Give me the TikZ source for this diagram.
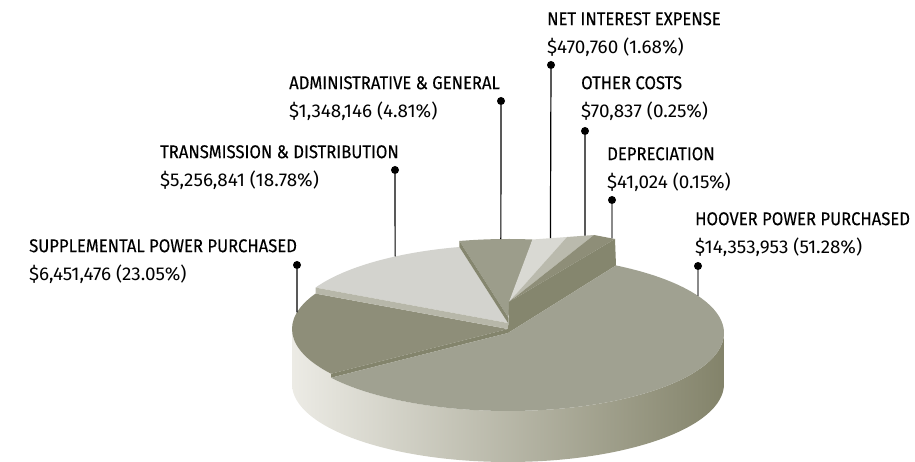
\documentclass[tikz,border=0pt]{standalone}
\usepackage{fontspec}
\setmainfont{Fira Sans}
\newfontfamily\headfont{Fira Sans}[FakeStretch=0.90,FakeBold=0.3]
\newfontfamily\numfont{Fira Sans}[FakeStretch=1.02]
\usepackage{tikz}
\usetikzlibrary{positioning,calc}

\definecolor{hoovertop}{HTML}{A0A191}
\definecolor{supptop}{HTML}{8E8E79}
\definecolor{suppcut}{HTML}{83846C}
\definecolor{tdtop}{HTML}{D3D3CE}
\definecolor{tdcut}{HTML}{B7B7A9}
\definecolor{agtop}{HTML}{9C9D8B}
\definecolor{agcut}{HTML}{85866F}
\definecolor{nitop}{HTML}{D9D9D3}
\definecolor{octop}{HTML}{BABAAD}
\definecolor{deptop}{HTML}{8E8E78}
\definecolor{depcut}{HTML}{85866E}
\definecolor{sideleft}{HTML}{ECEBE5}
\definecolor{sidemid}{HTML}{B3B09C}
\definecolor{sideright}{HTML}{83836A}

\begin{document}
\begin{tikzpicture}[x=1pt, y=1pt,
        lbl/.style={anchor=north west, inner sep=0pt, align=left, font=\fontsize{18.5}{28}\selectfont},
        dot/.style={circle, fill=black, inner sep=0pt, minimum size=8pt},
        leader/.style={line width=1.2pt}]
        \useasboundingbox (0,0) rectangle (915,462);

        % Centres of the slices
        \coordinate (c0) at (508,129);
        \coordinate (cs) at (508,133);
        \coordinate (ct) at (508,139);
        \coordinate (ca) at (508,145);
        \coordinate (sm) at (509,160);
        \coordinate (r0) at ($(ca)+(83.5:216 and 78)$);
        \coordinate (r1) at (567,225);
        \coordinate (r2) at (594,227);
        \coordinate (r3) at (615,223);

        % Side of the pie
        \shade[left color=sideleft, middle color=sidemid, right color=sideright]
            ($(cs)+(180:216 and 78)$) arc[start angle=180, end angle=215, x radius=216, y radius=78]
            -- ($(c0)+(215:216 and 78)$) arc[start angle=215, end angle=360, x radius=216, y radius=78]
            -- ++(0,-51) arc[start angle=0, end angle=-180, x radius=216, y radius=78] -- cycle;

        % Slices
        \fill[agtop] (ca) -- ($(ca)+(83.5:216 and 78)$) arc[start angle=83.5, end angle=103, x radius=216, y radius=78] -- cycle;
        \fill[tdtop] (ct) -- ($(ct)+(103:216 and 78)$) arc[start angle=103, end angle=153, x radius=216, y radius=78] -- cycle;
        \fill[agcut] (ca) -- ($(ca)+(103:216 and 78)$) -- ($(ct)+(103:216 and 78)$) -- (ct) -- cycle;
        \fill[supptop] (cs) -- ($(cs)+(153:216 and 78)$) arc[start angle=153, end angle=215, x radius=216, y radius=78] -- cycle;
        \fill[tdcut] (ct) -- ($(ct)+(153:216 and 78)$) -- ($(cs)+(153:216 and 78)$) -- (cs) -- cycle;
        \fill[nitop] (sm) -- (r0) -- (r1) -- cycle;
        \fill[octop] (sm) -- (r1) -- (r2) -- cycle;
        \fill[deptop] (sm) -- (r2) -- (r3) -- cycle;
        \fill[depcut] (c0) -- (sm) -- (r3) -- ($(c0)+(60:216 and 78)$) -- cycle;
        \fill[suppcut] (cs) -- ($(cs)+(215:216 and 78)$) -- ($(c0)+(215:216 and 78)$) -- (c0) -- cycle;
        \fill[hoovertop] (c0) -- ($(c0)+(60:216 and 78)$) arc[start angle=60, end angle=-145, x radius=216, y radius=78] -- cycle;

        % Labels
        \node[lbl] (nilbl) at (547,450) {\headfont NET INTEREST EXPENSE\\\numfont \$470,760 (1.68\%)};
        \node[lbl] (aglbl) at (289,386) {\headfont ADMINISTRATIVE \& GENERAL\\\numfont \$1,348,146 (4.81\%)};
        \node[lbl] (oclbl) at (581,386) {\headfont OTHER COSTS\\\numfont \$70,837 (0.25\%)};
        \node[lbl] (tdlbl) at (160,317) {\headfont TRANSMISSION \& DISTRIBUTION\\\numfont \$5,256,841 (18.78\%)};
        \node[lbl] (deplbl) at (607,315) {\headfont DEPRECIATION\\\numfont \$41,024 (0.15\%)};
        \node[lbl] (hooverlbl) at (695,250) {\headfont HOOVER POWER PURCHASED\\\numfont \$14,353,953 (51.28\%)};
        \node[lbl] (supplbl) at (29,223) {\headfont SUPPLEMENTAL POWER PURCHASED\\\numfont \$6,451,476 (23.05\%)};

        % Dots and leader ends
        \node[dot] (nidot) at (551,397) {};
        \node[dot] (agdot) at (501,361) {};
        \node[dot] (ocdot) at (585,331) {};
        \node[dot] (tddot) at (395,292) {};
        \node[dot] (depdot) at (612,262) {};
        \node[dot] (hooverdot) at (698,196) {};
        \node[dot] (suppdot) at (297,197) {};
        \coordinate (niend) at ($(r0)!0.52!(r1)$);
        \coordinate (agend) at ($(ca)+(91.9:216 and 78)$);
        \coordinate (ocend) at ($(r1)!0.67!(r2)$);
        \coordinate (tdend) at ($(ct)+(121.5:216 and 78)$);
        \coordinate (depend) at ($(r2)!0.86!(r3)$);
        \coordinate (hooverend) at ($(c0)+(28.4:216 and 78)$);
        \coordinate (suppend) at ($(cs)+(167.7:216 and 78)$);

        % Leaders
        \draw[leader] (nidot) -- (niend);
        \draw[leader] (agdot) -- (agend);
        \draw[leader] (ocdot) -- (ocend);
        \draw[leader] (tddot) -- (tdend);
        \draw[leader, black!70] (depdot) -- (depend);
        \draw[leader, black!70] (hooverdot) -- (hooverend);
        \draw[leader] (suppdot) -- (suppend);
    \end{tikzpicture}
\end{document}
